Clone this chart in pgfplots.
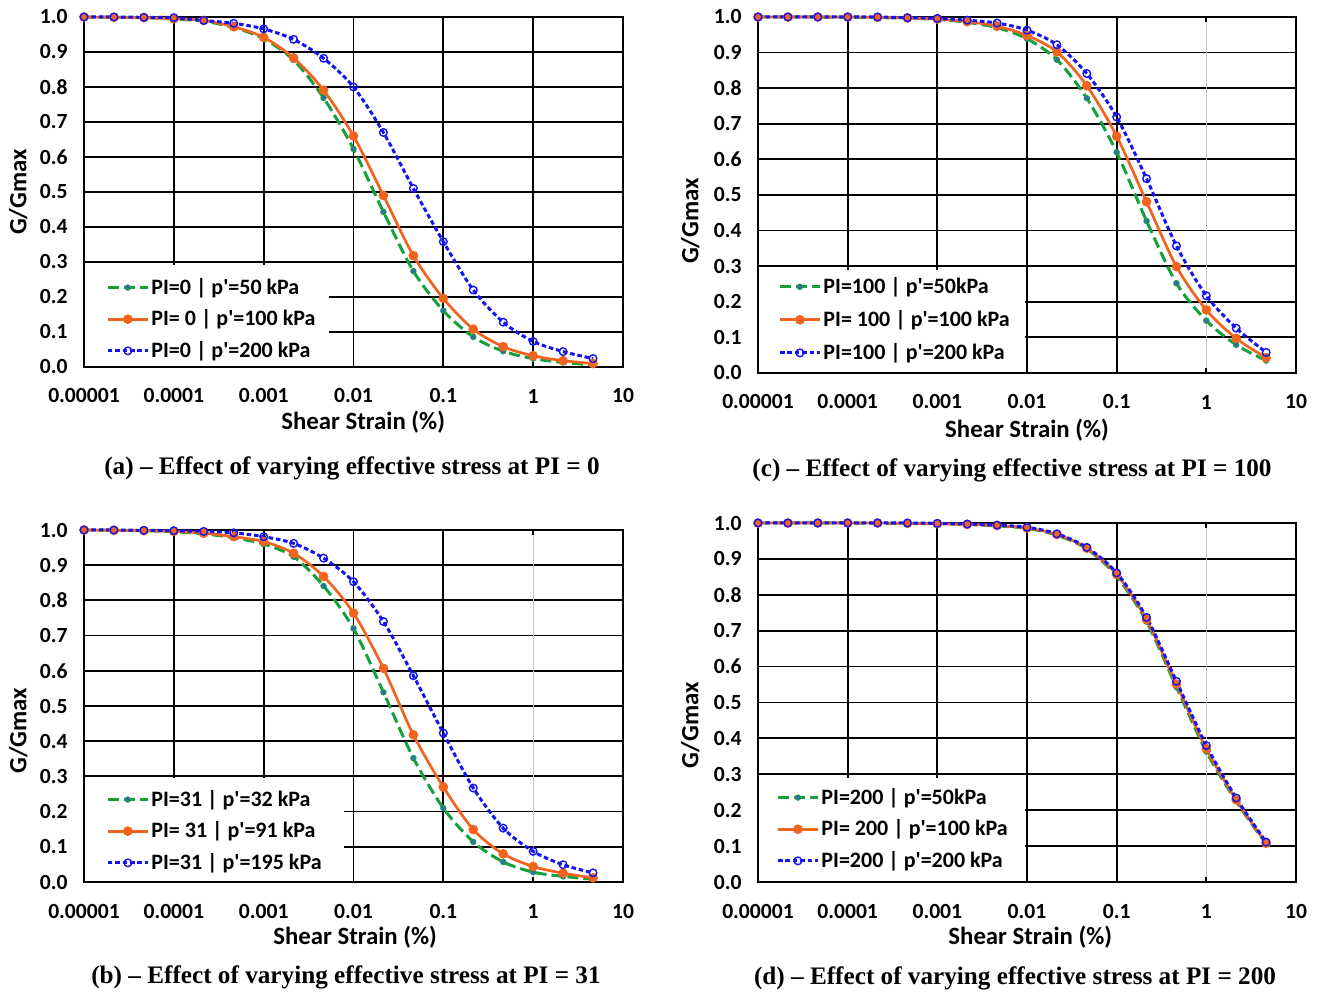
\documentclass[border=0pt]{standalone}
\usepackage{fontspec}
\setmainfont{Carlito}
\newfontfamily\capfont{Liberation Serif}
\usepackage{pgfplots}
\usepackage{pgfplotstable}
\pgfplotsset{compat=1.18}

\definecolor{cgreen}{RGB}{20,160,60}
\definecolor{corange}{RGB}{240,100,30}
\definecolor{cblue}{RGB}{20,20,240}
\definecolor{cmark}{RGB}{50,110,170}
\definecolor{cfill}{RGB}{255,255,225}

\pgfplotstableread{
x g o b
1e-5      1.000 1.000 1.000
2.154e-5  0.999 0.999 1.000
4.642e-5  0.998 0.998 0.999
1e-4      0.994 0.995 0.998
2.154e-4  0.988 0.990 0.990
4.642e-4  0.970 0.972 0.982
1e-3      0.938 0.942 0.966
2.154e-3  0.877 0.883 0.936
4.642e-3  0.769 0.791 0.882
0.01      0.623 0.660 0.800
0.02154   0.443 0.490 0.670
0.04642   0.274 0.318 0.510
0.1       0.161 0.196 0.358
0.2154    0.086 0.108 0.220
0.4642    0.045 0.058 0.128
1         0.024 0.032 0.073
2.154     0.013 0.018 0.044
4.642     0.006 0.010 0.024
}\tabA

\pgfplotstableread{
x g o b
1e-5      1.000 1.000 1.000
2.154e-5  0.999 0.999 1.000
4.642e-5  0.998 0.998 0.999
1e-4      0.995 0.996 0.998
2.154e-4  0.989 0.991 0.996
4.642e-4  0.978 0.981 0.992
1e-3      0.960 0.967 0.981
2.154e-3  0.924 0.934 0.962
4.642e-3  0.841 0.868 0.920
0.01      0.720 0.764 0.853
0.02154   0.539 0.607 0.740
0.04642   0.352 0.418 0.586
0.1       0.210 0.270 0.423
0.2154    0.114 0.149 0.267
0.4642    0.057 0.080 0.153
1         0.028 0.044 0.087
2.154     0.016 0.025 0.049
4.642     0.008 0.012 0.026
}\tabB

\pgfplotstableread{
x g o b
1e-5      1.000 1.000 1.000
2.154e-5  1.000 1.000 1.000
4.642e-5  1.000 1.000 1.000
1e-4      0.999 1.000 1.000
2.154e-4  0.998 0.999 1.000
4.642e-4  0.997 0.997 0.998
1e-3      0.993 0.994 0.996
2.154e-3  0.985 0.987 0.991
4.642e-3  0.970 0.974 0.983
0.01      0.939 0.948 0.963
0.02154   0.880 0.902 0.922
0.04642   0.772 0.807 0.841
0.1       0.620 0.665 0.719
0.2154    0.427 0.481 0.546
0.4642    0.252 0.299 0.357
1         0.147 0.177 0.217
2.154     0.079 0.097 0.126
4.642     0.035 0.043 0.058
}\tabC

\pgfplotstableread{
x g o b
1e-5      1.000 1.000 1.000
2.154e-5  1.000 1.000 1.000
4.642e-5  1.000 1.000 1.000
1e-4      1.000 1.000 1.000
2.154e-4  0.999 1.000 1.000
4.642e-4  0.999 0.999 1.000
1e-3      0.998 0.998 0.999
2.154e-3  0.996 0.996 0.997
4.642e-3  0.992 0.993 0.994
0.01      0.985 0.986 0.988
0.02154   0.966 0.968 0.970
0.04642   0.928 0.930 0.932
0.1       0.852 0.857 0.861
0.2154    0.725 0.731 0.737
0.4642    0.543 0.551 0.559
1         0.363 0.371 0.380
2.154     0.225 0.229 0.234
4.642     0.105 0.108 0.111
}\tabD

\pgfplotsset{
  every axis/.append style={
    scale only axis, clip=false,
    xmin=1e-5, xmax=10, ymin=0, ymax=1,
    xtick={1e-5,1e-4,1e-3,1e-2,1e-1,10},
    xticklabels={0.00001,0.0001,0.001,0.01,0.1,10},
    extra x ticks={1}, extra x tick labels={1},
    ytick={0,0.1,0.2,0.3,0.4,0.5,0.6,0.7,0.8,0.9,1},
    yticklabels={0.0,0.1,0.2,0.3,0.4,0.5,0.6,0.7,0.8,0.9,1.0},
    grid=major, grid style={black, line width=0.9pt},
    xminorticks=false, yminorticks=false,
    tick align=inside, major tick length=2.5pt,
    tick style={black, line width=0.9pt},
    axis line style={black, line width=1pt},
    tick label style={font=\fontsize{10.8}{12}\selectfont\bfseries},
    yticklabel style={anchor=east, inner sep=0pt, xshift=-8pt},
    xticklabel style={anchor=center, yshift=-14.5pt},
    every axis label/.append style={font=\fontsize{12.4}{14}\selectfont\bfseries},
    xlabel={Shear Strain (\%)}, ylabel={G/Gmax},
    legend cell align=left,
    legend style={draw=none, fill=none, inner sep=0pt, row sep=4.3pt,
      nodes={inner sep=1pt}, anchor=south west,
      font=\fontsize{11}{13}\selectfont\bfseries},
  },
  pwhite/.style={draw=none, fill=white, forget plot, mark=none},
  pgreen/.style={color=cgreen, line width=1.5pt, dash pattern=on 5.5pt off 2.5pt, smooth,
    mark=*, mark size=1.4pt, mark options={solid, fill=cmark, draw=cgreen, line width=0.4pt}},
  porange/.style={color=corange, line width=1.35pt, solid, smooth,
    mark=*, mark size=1.7pt, mark options={solid, fill=corange, draw=corange}},
  pblue/.style={color=cblue, line width=1.5pt, dash pattern=on 2.3pt off 1.4pt, smooth,
    mark=o, mark size=1.9pt, mark options={solid, fill=cfill, draw=cblue, line width=0.7pt}},
}

\begin{document}
\begin{tikzpicture}
\useasboundingbox (0,0) rectangle (660pt,497pt);

% (a)
\begin{axis}[xmode=log, at={(42pt,313.5pt)}, anchor=south west, width=269.5pt, height=175pt,
  legend image code/.code={\draw[mark repeat=2,mark phase=2,#1] plot coordinates {(0pt,0pt) (10pt,0pt) (20pt,0pt)};},
  xlabel style={at={(axis description cs:0.518,0)}, anchor=center, yshift=-27.5pt},
  ylabel style={at={(axis description cs:-0.122,0.5)}, anchor=center},
  legend style={at={(axis description cs:0.0408,0.012)}}]
\addplot[pwhite] coordinates {(1.03e-5,0.003) (0.0054,0.003) (0.0054,0.29) (1.03e-5,0.29)} -- cycle;
\addplot[pgreen] table[x=x,y=g]{\tabA};
\addplot[porange] table[x=x,y=o]{\tabA};
\addplot[pblue] table[x=x,y=b]{\tabA};
\legend{PI=0 | p\textquotesingle=50 kPa, PI= 0 | p\textquotesingle=100 kPa, PI=0 | p\textquotesingle=200 kPa}
\end{axis}

% (c)
\begin{axis}[xmode=log, at={(379pt,310.5pt)}, anchor=south west, width=269pt, height=178pt,
  extra x tick style={grid=major, grid style={gray!45, line width=0.6pt}},
  legend image code/.code={\draw[mark repeat=2,mark phase=2,#1] plot coordinates {(0pt,0pt) (10pt,0pt) (20pt,0pt)};},
  xlabel style={at={(axis description cs:0.5,0)}, anchor=center, yshift=-28.5pt},
  ylabel style={at={(axis description cs:-0.126,0.427)}, anchor=center},
  legend style={at={(axis description cs:0.0372,0.023)}, row sep=5pt}]
\addplot[pwhite] coordinates {(1.03e-5,0.003) (0.0095,0.003) (0.0095,0.29) (1.03e-5,0.29)} -- cycle;
\addplot[pgreen] table[x=x,y=g]{\tabC};
\addplot[porange] table[x=x,y=o]{\tabC};
\addplot[pblue] table[x=x,y=b]{\tabC};
\legend{PI=100 | p\textquotesingle=50kPa, PI= 100 | p\textquotesingle=100 kPa, PI=100 | p\textquotesingle=200 kPa}
\end{axis}

% (b)
\begin{axis}[xmode=log, at={(42pt,56pt)}, anchor=south west, width=269.5pt, height=176pt,
  extra x tick style={grid=major, grid style={gray!45, line width=0.6pt}},
  legend image code/.code={\draw[mark repeat=2,mark phase=2,#1] plot coordinates {(0pt,0pt) (10pt,0pt) (20pt,0pt)};},
  xlabel style={at={(axis description cs:0.503,0)}, anchor=center, yshift=-27.5pt},
  ylabel style={at={(axis description cs:-0.122,0.43)}, anchor=center},
  legend style={at={(axis description cs:0.0408,0.0205)}}]
\addplot[pwhite] coordinates {(1.03e-5,0.003) (0.0079,0.003) (0.0079,0.295) (1.03e-5,0.295)} -- cycle;
\addplot[pgreen] table[x=x,y=g]{\tabB};
\addplot[porange] table[x=x,y=o]{\tabB};
\addplot[pblue] table[x=x,y=b]{\tabB};
\legend{PI=31 | p\textquotesingle=32 kPa, PI= 31 | p\textquotesingle=91 kPa, PI=31 | p\textquotesingle=195 kPa}
\end{axis}

% (d)
\begin{axis}[xmode=log, at={(379pt,56pt)}, anchor=south west, width=269pt, height=179.5pt,
  extra x tick style={grid=major, grid style={gray!45, line width=0.6pt}},
  legend image code/.code={\draw[mark repeat=2,mark phase=2,#1] plot coordinates {(0pt,0pt) (10pt,0pt) (20pt,0pt)};},
  xlabel style={at={(axis description cs:0.506,0)}, anchor=center, yshift=-27.5pt},
  ylabel style={at={(axis description cs:-0.126,0.437)}, anchor=center},
  legend style={at={(axis description cs:0.0335,0.0256)}}]
\addplot[pwhite] coordinates {(1.03e-5,0.003) (0.0095,0.003) (0.0095,0.29) (1.03e-5,0.29)} -- cycle;
\addplot[pgreen] table[x=x,y=g]{\tabD};
\addplot[porange] table[x=x,y=o]{\tabD};
\addplot[pblue] table[x=x,y=b]{\tabD};
\legend{PI=200 | p\textquotesingle=50kPa, PI= 200 | p\textquotesingle=100 kPa, PI=200 | p\textquotesingle=200 kPa}
\end{axis}

\node[font=\capfont\bfseries\fontsize{12.6}{14}\selectfont] at (176pt,263pt) {(a) – Effect of varying effective stress at PI = 0};
\node[font=\capfont\bfseries\fontsize{12.6}{14}\selectfont] at (506pt,262pt) {(c) – Effect of varying effective stress at PI = 100};
\node[font=\capfont\bfseries\fontsize{12.6}{14}\selectfont] at (173pt,8.5pt) {(b) – Effect of varying effective stress at PI = 31};
\node[font=\capfont\bfseries\fontsize{12.6}{14}\selectfont] at (507.5pt,8pt) {(d) – Effect of varying effective stress at PI = 200};
\end{tikzpicture}
\end{document}
